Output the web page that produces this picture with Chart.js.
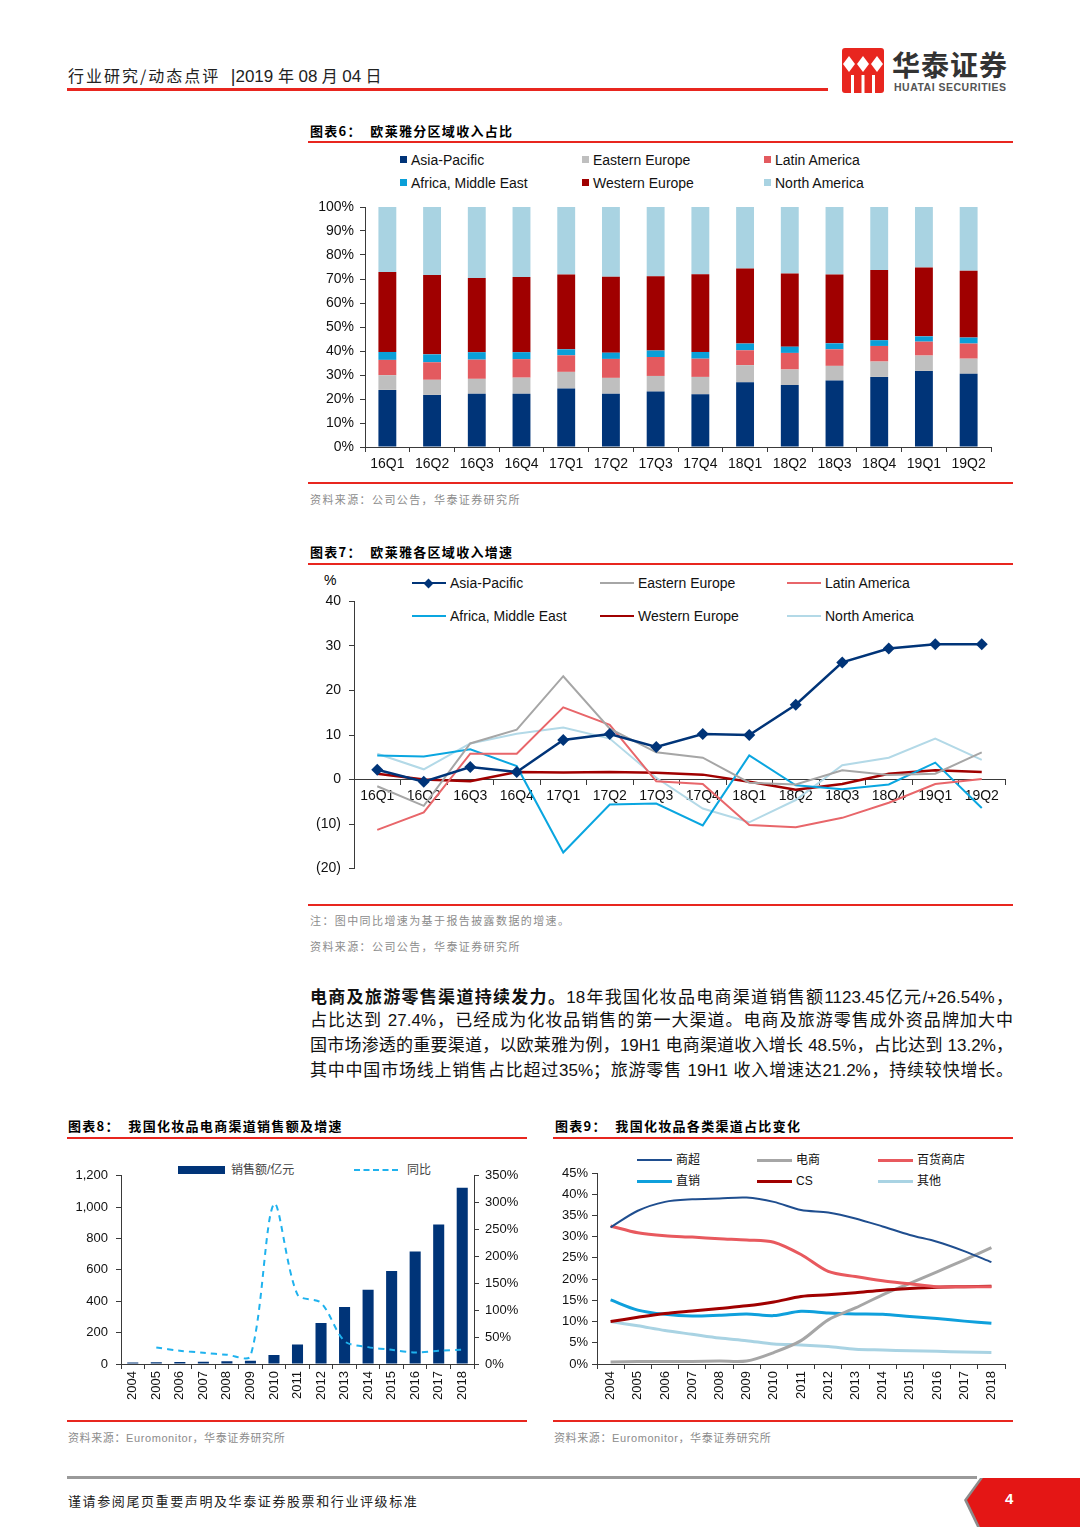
<!DOCTYPE html>
<html>
<head>
<meta charset="utf-8">
<script src="https://cdn.jsdelivr.net/npm/chart.js@4.4.0/dist/chart.umd.min.js"></script>
<style>
body{margin:0;background:#fff;}
#page{position:relative;width:1080px;height:1527px;overflow:hidden;font-family:"Liberation Sans","Noto Sans CJK SC",sans-serif;color:#000;}
.abs{position:absolute;white-space:nowrap;}
.rl{position:absolute;height:2px;background:#E8261F;}
.ttl{position:absolute;font-size:13px;font-weight:bold;font-family:"Noto Sans CJK SC",sans-serif;line-height:16px;white-space:nowrap;letter-spacing:1.3px;}
.src{position:absolute;font-size:11px;color:#8c8c8c;font-family:"Liberation Sans","Noto Sans CJK SC",sans-serif;line-height:14px;white-space:nowrap;letter-spacing:1.4px;}
canvas{position:absolute;}
.lg{position:absolute;white-space:nowrap;font-size:14px;line-height:16px;color:#111;}
.sq{position:absolute;width:7px;height:7px;}
.ln{position:absolute;height:3px;}
.body div{text-align:justify;text-align-last:justify;height:25px;}
</style>
</head>
<body>
<div id="page">
  <!-- header -->
  <div class="abs" style="left:68px;top:65px;font-size:16px;line-height:20px;color:#222;"><span style="font-family:'Noto Sans CJK SC';letter-spacing:2px;">行业研究/动态点评</span> <span style="font-size:18px;margin-left:6px;">|</span><span style="font-family:'Liberation Sans';font-size:17px;">2019 </span> 年 <span style="font-size:17px;">08</span> 月 <span style="font-size:17px;">04</span> 日</div>
  <div class="abs" style="left:67px;top:88px;width:761px;height:3px;background:#E8261F;"></div>
  <svg class="abs" style="left:842px;top:48px;" width="42" height="45" viewBox="0 0 42 45">
    <rect x="0" y="0" width="42" height="45" rx="3" fill="#E8261F"/>
    <path d="M7 8 L13 16 L7 24 L1 16 Z M21 8 L27 16 L21 24 L15 16 Z M35 8 L41 16 L35 24 L29 16 Z" fill="#fff"/>
    <rect x="9" y="27" width="3" height="18" fill="#fff"/><rect x="19.5" y="27" width="3" height="18" fill="#fff"/><rect x="30" y="27" width="3" height="18" fill="#fff"/>
  </svg>
  <div class="abs" style="left:892px;top:46px;font-size:28px;font-weight:bold;color:#333;font-family:'Noto Sans CJK SC';line-height:36px;letter-spacing:1px;">华泰证券</div>
  <div class="abs" style="left:894px;top:81px;font-size:10.5px;font-weight:bold;color:#555;line-height:12px;letter-spacing:0.5px;">HUATAI SECURITIES</div>

  <!-- figure 6 -->
  <div class="ttl" style="left:310px;top:123px;">图表6：&nbsp;&nbsp;欧莱雅分区域收入占比</div>
  <div class="rl" style="left:308px;top:141px;width:705px;"></div>
  <div id="lg6"></div>
  <canvas id="c6" width="710" height="288" style="left:300px;top:192px;"></canvas>
  <div class="rl" style="left:308px;top:482px;width:705px;"></div>
  <div class="src" style="left:310px;top:492px;font-family:'Noto Sans CJK SC';">资料来源：公司公告，华泰证券研究所</div>

  <!-- figure 7 -->
  <div class="ttl" style="left:310px;top:544px;">图表7：&nbsp;&nbsp;欧莱雅各区域收入增速</div>
  <div class="rl" style="left:308px;top:563px;width:705px;"></div>
  <div class="abs" style="left:324px;top:572px;font-size:14px;">%</div>
  <div id="lg7"></div>
  <canvas id="c7" width="720" height="300" style="left:300px;top:585px;"></canvas>
  <div class="rl" style="left:308px;top:904px;width:705px;"></div>
  <div class="src" style="left:310px;top:913px;font-family:'Noto Sans CJK SC';">注：图中同比增速为基于报告披露数据的增速。</div>
  <div class="src" style="left:310px;top:939px;font-family:'Noto Sans CJK SC';">资料来源：公司公告，华泰证券研究所</div>

  <!-- body text -->
  <div class="body abs" style="left:310px;top:983px;width:703px;font-size:17px;line-height:25px;white-space:normal;color:#111;">
    <div><b style="font-family:'Noto Sans CJK SC';">电商及旅游零售渠道持续发力。</b>18年我国化妆品电商渠道销售额1123.45亿元/+26.54%，</div>
    <div>占比达到 27.4%，已经成为化妆品销售的第一大渠道。电商及旅游零售成外资品牌加大中</div>
    <div>国市场渗透的重要渠道，以欧莱雅为例，19H1 电商渠道收入增长 48.5%，占比达到 13.2%，</div>
    <div>其中中国市场线上销售占比超过35%；旅游零售 19H1 收入增速达21.2%，持续较快增长。</div>
  </div>

  <!-- figure 8 -->
  <div class="ttl" style="left:68px;top:1118px;">图表8：&nbsp;&nbsp;我国化妆品电商渠道销售额及增速</div>
  <div class="rl" style="left:67px;top:1137px;width:460px;"></div>
  <div class="abs" style="left:178px;top:1166px;width:47px;height:8px;background:#003478;"></div>
  <div class="lg" style="left:231px;top:1162px;font-size:12px;color:#444;">销售额/亿元</div>
  <div class="abs" style="left:354px;top:1169px;width:44px;height:0;border-top:2px dashed #1FB2EE;"></div>
  <div class="lg" style="left:407px;top:1162px;font-size:12px;color:#444;">同比</div>
  <canvas id="c8" width="485" height="250" style="left:55px;top:1160px;"></canvas>
  <div class="rl" style="left:67px;top:1420px;width:460px;"></div>
  <div class="src" style="left:68px;top:1431px;letter-spacing:0.6px;">资料来源：Euromonitor，华泰证券研究所</div>

  <!-- figure 9 -->
  <div class="ttl" style="left:555px;top:1118px;">图表9：&nbsp;&nbsp;我国化妆品各类渠道占比变化</div>
  <div class="rl" style="left:553px;top:1137px;width:460px;"></div>
  <div id="lg9"></div>
  <canvas id="c9" width="470" height="252" style="left:548px;top:1158px;"></canvas>
  <div class="rl" style="left:553px;top:1420px;width:460px;"></div>
  <div class="src" style="left:554px;top:1431px;letter-spacing:0.6px;">资料来源：Euromonitor，华泰证券研究所</div>

  <!-- footer -->
  <div class="abs" style="left:67px;top:1476px;width:910px;height:3px;background:#9a9a9a;"></div>
  <svg class="abs" style="left:950px;top:1474px;" width="130" height="53" viewBox="0 0 130 53">
    <polygon points="30,4 14,26 27,53 130,53 130,4" fill="#8c8c8c"/>
    <polygon points="33,4 17,26 30,53 130,53 130,4" fill="#E41615"/>
  </svg>
  <div class="abs" style="left:1005px;top:1490px;font-size:15px;color:#fff;font-weight:bold;">4</div>
  <div class="abs" style="left:68px;top:1491px;font-size:13px;color:#222;font-family:'Noto Sans CJK SC';letter-spacing:1.6px;">谨请参阅尾页重要声明及华泰证券股票和行业评级标准</div>
</div>

<script>
// 图表6 数据：欧莱雅分区域收入占比（%）
var quarters = ['16Q1','16Q2','16Q3','16Q4','17Q1','17Q2','17Q3','17Q4','18Q1','18Q2','18Q3','18Q4','19Q1','19Q2'];
var shareAsia    = [23.8,21.7,22.2,22.2,24.4,22.2,23.1,22.0,27.0,25.8,27.7,29.2,31.7,30.5];
var shareEastEu  = [6.1,6.3,6.2,6.7,6.9,6.6,6.5,7.2,7.1,6.5,6.1,6.4,6.4,6.3];
var shareLatam   = [6.4,7.3,8.0,7.7,6.9,7.9,7.9,7.6,6.2,6.9,6.9,6.5,5.8,6.3];
var shareAfrica  = [3.3,3.3,3.1,2.9,2.5,2.6,2.7,2.8,2.8,2.6,2.5,2.4,2.2,2.5];
var shareWestEu  = [33.3,33.1,30.9,31.3,31.2,31.6,30.9,32.4,31.3,30.5,28.7,29.2,28.7,27.8];
var shareNorthAm = [27.1,28.3,29.6,29.2,28.1,29.1,28.9,28.0,25.6,27.7,28.1,26.3,25.2,26.6];
var shareTicks = [0,10,20,30,40,50,60,70,80,90,100];

// 图表7 数据：各区域收入同比增速（%）
var growAsia    = [2.2,-0.5,2.8,1.7,8.9,10.2,7.3,10.2,10.0,16.8,26.3,29.4,30.4,30.4];
var growEastEu  = [-1.5,-5.9,8.1,11.2,23.2,11.4,6.1,4.9,-0.7,-1.1,2.1,1.0,1.3,6.1];
var growLatam   = [-11.3,-7.4,5.8,5.8,16.2,12.3,-0.4,-1.0,-10.2,-10.7,-8.6,-5.2,-1.0,0.1];
var growAfrica  = [5.4,5.2,6.8,3.0,-16.4,-5.6,-5.4,-10.3,5.4,-1.3,-2.2,-1.1,3.8,-6.4];
var growWestEu  = [1.3,0.0,-0.4,1.7,1.6,1.7,1.5,1.1,-0.5,-2.3,-1.0,1.3,2.1,1.7];
var growNorthAm = [5.8,2.3,8.1,10.3,11.7,9.2,0.4,-6.5,-9.6,-4.6,3.2,4.9,9.2,4.4];

// 图表8 数据：电商渠道销售额（亿元）及同比（%）
var years = ['2004','2005','2006','2007','2008','2009','2010','2011','2012','2013','2014','2015','2016','2017','2018'];
var ecomSales = [9,11,13,15,17,20,57,124,262,363,473,593,717,890,1123.45];
var ecomYoy   = [null,30.8,24.6,20.9,17.2,14.8,297.7,129.0,113.8,42.4,31.4,26.4,21.5,24.6,26.54];

// 图表9 数据：各类渠道占比（%）
var chSuper  = [32.2,36.1,38.2,38.8,39.0,39.2,38.2,36.3,35.7,34.3,32.4,30.4,28.8,26.6,24.0];
var chEcom   = [0.5,0.6,0.6,0.6,0.7,0.7,2.7,5.5,10.4,13.2,16.3,19.0,21.7,24.5,27.4];
var chDept   = [32.5,30.9,30.2,29.9,29.5,29.2,28.7,25.8,21.8,20.6,19.6,18.9,18.2,18.2,18.2];
var chDirect = [15.1,12.7,11.7,11.3,11.5,11.8,11.4,12.4,12.0,11.8,11.7,11.2,10.7,10.1,9.6];
var chCS     = [10.0,11.0,11.9,12.5,13.1,13.7,14.6,15.9,16.3,16.8,17.4,17.8,18.1,18.2,18.3];
var chOther  = [10.0,9.0,7.9,7.0,6.1,5.5,4.7,4.5,4.1,3.5,3.3,3.1,3.0,2.8,2.7];

// 颜色
var cNavy = '#003478', cGray = '#BFBFBF', cPink = '#E35A5F', cBlue = '#0A9FD8', cDarkRed = '#A00000', cLight = '#A9D3E2';

Chart.defaults.font.family = '"Liberation Sans", "Noto Sans CJK SC", sans-serif';
Chart.defaults.color = '#111';
Chart.defaults.animation = false;
Chart.defaults.plugins.legend.display = false;
Chart.defaults.plugins.tooltip.enabled = false;

function fixW(w){ return function(s){ s.width = w; }; }
function fixH(h){ return function(s){ s.height = h; }; }
var axisCol = '#3a3a3a';

// HTML 图例
function squareLegend(el, items){
  var h = '';
  items.forEach(function(it){
    h += '<div class="sq" style="left:'+it.x+'px;top:'+(it.y-4)+'px;background:'+it.c+'"></div>';
    h += '<div class="lg" style="left:'+(it.x+11)+'px;top:'+(it.y-8)+'px;">'+it.t+'</div>';
  });
  document.getElementById(el).innerHTML = h;
}
function lineLegend(el, items, fs){
  var h = '';
  items.forEach(function(it){
    h += '<div class="ln" style="left:'+it.x+'px;top:'+(it.y-1)+'px;width:'+it.w+'px;height:'+it.lw+'px;background:'+it.c+'"></div>';
    if (it.dia) h += '<div class="abs" style="left:'+(it.x+it.w/2-4)+'px;top:'+(it.y-3.5)+'px;width:7px;height:7px;background:'+it.c+';transform:rotate(45deg);"></div>';
    h += '<div class="lg" style="left:'+(it.x+it.w+4)+'px;top:'+(it.y-8)+'px;font-size:'+fs+'px;'+(it.f?'font-family:'+it.f+';':'')+'">'+it.t+'</div>';
  });
  document.getElementById(el).innerHTML = h;
}

squareLegend('lg6', [
  {x:400,y:160,c:cNavy,t:'Asia-Pacific'},
  {x:582,y:160,c:cGray,t:'Eastern Europe'},
  {x:764,y:160,c:cPink,t:'Latin America'},
  {x:400,y:183,c:cBlue,t:'Africa, Middle East'},
  {x:582,y:183,c:cDarkRed,t:'Western Europe'},
  {x:764,y:183,c:cLight,t:'North America'}
]);

lineLegend('lg7', [
  {x:412,y:583,w:34,lw:2,c:cNavy,t:'Asia-Pacific',dia:true},
  {x:600,y:583,w:34,lw:2,c:'#A6A6A6',t:'Eastern Europe'},
  {x:787,y:583,w:34,lw:2,c:'#E8666A',t:'Latin America'},
  {x:412,y:616,w:34,lw:2,c:'#0AA6E0',t:'Africa, Middle East'},
  {x:600,y:616,w:34,lw:2,c:cDarkRed,t:'Western Europe'},
  {x:787,y:616,w:34,lw:2,c:'#B3D9E7',t:'North America'}
], 14);

lineLegend('lg9', [
  {x:637,y:1160,w:35,lw:2,c:'#1F4E8F',t:'商超',f:'"Noto Sans CJK SC"'},
  {x:757,y:1160,w:35,lw:3,c:'#A6A6A6',t:'电商',f:'"Noto Sans CJK SC"'},
  {x:878,y:1160,w:35,lw:3,c:'#E8595E',t:'百货商店',f:'"Noto Sans CJK SC"'},
  {x:637,y:1181,w:35,lw:3,c:'#0FA0DC',t:'直销',f:'"Noto Sans CJK SC"'},
  {x:757,y:1181,w:35,lw:3,c:cDarkRed,t:'CS'},
  {x:878,y:1181,w:35,lw:3,c:'#A9D3E3',t:'其他',f:'"Noto Sans CJK SC"'}
], 12);

// 图表6：堆积柱状图
new Chart(document.getElementById('c6'), {
  type: 'bar',
  data: {
    labels: quarters,
    datasets: [
      {label:'Asia-Pacific', data: shareAsia, backgroundColor: cNavy},
      {label:'Eastern Europe', data: shareEastEu, backgroundColor: cGray},
      {label:'Latin America', data: shareLatam, backgroundColor: cPink},
      {label:'Africa, Middle East', data: shareAfrica, backgroundColor: cBlue},
      {label:'Western Europe', data: shareWestEu, backgroundColor: cDarkRed},
      {label:'North America', data: shareNorthAm, backgroundColor: cLight}
    ]
  },
  options: {
    responsive: false,
    layout: {padding: {top: 15, right: 19, left: 0, bottom: 0}},
    datasets: {bar: {categoryPercentage: 1, barPercentage: 0.4}},
    scales: {
      x: {stacked: true, afterFit: fixH(33),
          grid: {drawOnChartArea: false, offset: true, tickLength: 5, color: axisCol},
          border: {color: axisCol},
          ticks: {font: {size: 14}, padding: 4, maxRotation: 0, autoSkip: false}},
      y: {stacked: true, min: 0, max: 100, afterFit: fixW(65),
          afterBuildTicks: function(s){ s.ticks = shareTicks.map(function(v){ return {value: v}; }); },
          grid: {drawOnChartArea: false, tickLength: 5, color: axisCol},
          border: {color: axisCol},
          ticks: {font: {size: 14}, padding: 6, callback: function(v){ return v + '%'; }}}
    }
  }
});

// 图表7：增速折线图
function thinLine(label, data, color, w){
  return {label: label, data: data, borderColor: color, backgroundColor: color, borderWidth: w, pointRadius: 0, tension: 0};
}
new Chart(document.getElementById('c7'), {
  type: 'line',
  data: {
    labels: quarters,
    datasets: [
      {label:'Asia-Pacific', data: growAsia, borderColor: cNavy, backgroundColor: cNavy, borderWidth: 2.5,
       pointStyle: 'rectRot', pointRadius: 6, pointBorderWidth: 0, tension: 0},
      thinLine('Eastern Europe', growEastEu, '#A6A6A6', 2),
      thinLine('Latin America', growLatam, '#E8666A', 2),
      thinLine('Africa, Middle East', growAfrica, '#0AA6E0', 2),
      thinLine('Western Europe', growWestEu, cDarkRed, 2.5),
      thinLine('North America', growNorthAm, '#B3D9E7', 2)
    ]
  },
  options: {
    responsive: false,
    layout: {padding: {top: 12, right: 15, left: 0, bottom: 16}},
    scales: {
      x: {position: {y: 0}, offset: true,
          grid: {drawOnChartArea: false, offset: true, tickLength: 5, color: axisCol},
          border: {color: axisCol},
          ticks: {font: {size: 14}, padding: 3, maxRotation: 0, autoSkip: false}},
      y: {min: -20, max: 40, afterFit: fixW(54),
          grid: {drawOnChartArea: false, tickLength: 5, color: axisCol},
          border: {color: axisCol},
          ticks: {stepSize: 10, font: {size: 14}, padding: 8,
                  callback: function(v){ return v < 0 ? '(' + (-v) + ')' : v; }}}
    }
  }
});

// 图表8：电商渠道销售额及同比
new Chart(document.getElementById('c8'), {
  type: 'bar',
  data: {
    labels: years,
    datasets: [
      {type: 'line', label: '同比', data: ecomYoy, yAxisID: 'y1', borderColor: '#1FB2EE', borderWidth: 2,
       borderDash: [6, 5], pointRadius: 0, tension: 0.3, fill: false},
      {type: 'bar', label: '销售额/亿元', data: ecomSales, yAxisID: 'y', backgroundColor: cNavy,
       categoryPercentage: 1, barPercentage: 0.47}
    ]
  },
  options: {
    responsive: false,
    layout: {padding: {top: 14, right: 0, left: 0, bottom: 0}},
    scales: {
      x: {afterFit: fixH(46),
          grid: {drawOnChartArea: false, offset: true, tickLength: 5, color: axisCol},
          border: {color: axisCol},
          ticks: {font: {size: 13}, padding: 2, minRotation: 90, maxRotation: 90, autoSkip: false}},
      y: {min: 0, max: 1200, afterFit: fixW(66),
          grid: {drawOnChartArea: false, tickLength: 5, color: axisCol},
          border: {color: axisCol},
          ticks: {stepSize: 200, font: {size: 13}, padding: 8,
                  callback: function(v){ return v.toLocaleString('en-US'); }}},
      y1: {position: 'right', min: 0, max: 350, afterFit: fixW(66),
          grid: {drawOnChartArea: false, tickLength: 5, color: axisCol},
          border: {color: axisCol},
          ticks: {stepSize: 50, font: {size: 13}, padding: 6, callback: function(v){ return v + '%'; }}}
    }
  }
});

// 图表9：各类渠道占比
function chLine(label, data, color, w){
  return {label: label, data: data, borderColor: color, borderWidth: w, pointRadius: 0, tension: 0.3, fill: false};
}
new Chart(document.getElementById('c9'), {
  type: 'line',
  data: {
    labels: years,
    datasets: [
      chLine('商超', chSuper, '#1F4E8F', 2),
      chLine('百货商店', chDept, '#E8595E', 3),
      chLine('CS', chCS, cDarkRed, 3),
      chLine('电商', chEcom, '#A6A6A6', 3),
      chLine('直销', chDirect, '#0FA0DC', 3),
      chLine('其他', chOther, '#A9D3E3', 3)
    ]
  },
  options: {
    responsive: false,
    layout: {padding: {top: 15, right: 13, left: 0, bottom: 0}},
    scales: {
      x: {offset: true, afterFit: fixH(46),
          grid: {drawOnChartArea: false, offset: true, tickLength: 5, color: axisCol},
          border: {color: axisCol},
          ticks: {font: {size: 13}, padding: 2, minRotation: 90, maxRotation: 90, autoSkip: false}},
      y: {min: 0, max: 45, afterFit: fixW(49),
          grid: {drawOnChartArea: false, tickLength: 5, color: axisCol},
          border: {color: axisCol},
          ticks: {stepSize: 5, font: {size: 13}, padding: 4, callback: function(v){ return v + '%'; }}}
    }
  }
});
</script>
</body>
</html>
